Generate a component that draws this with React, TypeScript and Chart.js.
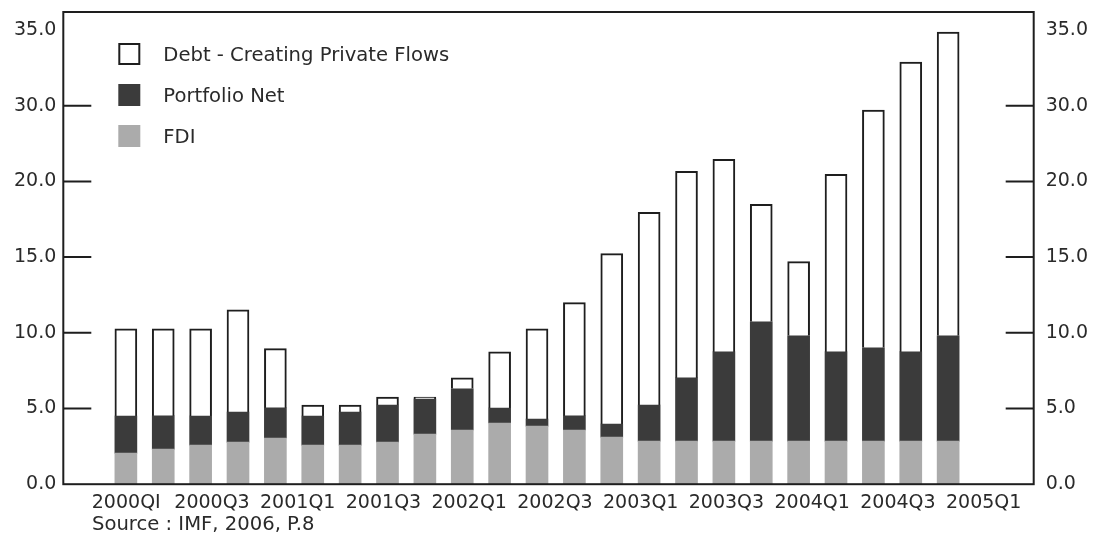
import React, { useEffect, useRef } from "react";
import { Chart, registerables } from "chart.js";

Chart.register(...registerables);

// ---- data ----
const QUARTERS = [
  "2000Q1", "2000Q2", "2000Q3", "2000Q4",
  "2001Q1", "2001Q2", "2001Q3", "2001Q4",
  "2002Q1", "2002Q2", "2002Q3", "2002Q4",
  "2003Q1", "2003Q2", "2003Q3", "2003Q4",
  "2004Q1", "2004Q2", "2004Q3", "2004Q4",
  "2005Q1", "2005Q2", "2005Q3",
];
const FDI = [
  2.05, 2.32, 2.58, 2.78, 3.05, 2.58, 2.58, 2.78, 3.31, 3.58, 4.04, 3.84,
  3.58, 3.11, 2.85, 2.85, 2.85, 2.85, 2.85, 2.85, 2.85, 2.85, 2.85,
];
const PORTFOLIO = [
  2.45, 2.19, 1.92, 1.99, 1.99, 1.92, 2.19, 2.45, 2.32, 2.72, 0.99, 0.46,
  0.93, 0.86, 2.38, 4.17, 5.89, 7.88, 6.95, 5.89, 6.16, 5.89, 6.95,
];
const DEBT = [
  5.76, 5.76, 5.76, 6.75, 3.91, 0.73, 0.46, 0.53, 0.13, 0.73, 3.71, 5.96,
  7.48, 11.26, 12.72, 13.64, 12.72, 7.75, 4.9, 11.72, 15.7, 19.14, 20.07,
];
const X_TICK_LABELS = [
  "2000QI", "2000Q3", "2001Q1", "2001Q3", "2002Q1", "2002Q3",
  "2003Q1", "2003Q3", "2004Q1", "2004Q3", "2005Q1",
];
const Y_TICK_VALUES = [0, 5, 10, 15, 20, 25, 30];
const Y_TICK_LABELS = ["0.0", "5.0", "10.0", "15.0", "20.0", "30.0", "35.0"];
const SERIES_LABELS = ["FDI", "Portfolio Net", "Debt - Creating Private Flows"];
const SOURCE_NOTE = "Source : IMF, 2006, P.8";

// ---- styles ----
const FONT_FAMILY = '"DejaVu Sans", Verdana, sans-serif';
const FONT_SIZE = 19;
const NOTE_FONT_SIZE = 19.6;
const TEXT_COLOR = "#2a2a2a";
const LINE_COLOR = "#1e1e1e";

const framePlugin = {
  id: "frameAndInnerTicks",
  afterDatasetsDraw(chart: any) {
    const { ctx, chartArea: a, scales } = chart;
    ctx.save();
    ctx.strokeStyle = LINE_COLOR;
    ctx.lineWidth = 2;
    ctx.strokeRect(a.left, a.top, a.right - a.left, a.bottom - a.top);
    const ys = scales.y;
    const ticks = ys.ticks;
    ctx.beginPath();
    ticks.forEach((t: any, i: number) => {
      if (i === 0 || i === ticks.length - 1) return;
      const py = ys.getPixelForValue(t.value);
      ctx.moveTo(a.left, py);
      ctx.lineTo(a.left + 28, py);
      ctx.moveTo(a.right, py);
      ctx.lineTo(a.right - 28, py);
    });
    ctx.stroke();
    ctx.restore();
  },
};

const legendPlugin = {
  id: "boxLegend",
  afterDraw(chart: any) {
    const { ctx, chartArea: a } = chart;
    const ds = chart.data.datasets.slice().reverse();
    ctx.save();
    ctx.font = `${NOTE_FONT_SIZE}px ${FONT_FAMILY}`;
    ctx.textBaseline = "middle";
    ctx.textAlign = "left";
    ds.forEach((d: any, i: number) => {
      const x = a.left + 55;
      const y = a.top + 31 + i * 41;
      ctx.fillStyle = d.backgroundColor;
      ctx.fillRect(x, y, 22, 22);
      if (d.borderWidth) {
        ctx.lineWidth = 2;
        ctx.strokeStyle = d.borderColor;
        ctx.strokeRect(x + 1, y + 1, 20, 20);
      }
      ctx.fillStyle = TEXT_COLOR;
      ctx.fillText(d.label, x + 45, y + 13);
    });
    ctx.restore();
  },
};

const sourcePlugin = {
  id: "sourceNote",
  afterDraw(chart: any) {
    const { ctx } = chart;
    ctx.save();
    ctx.font = `${NOTE_FONT_SIZE}px ${FONT_FAMILY}`;
    ctx.textBaseline = "middle";
    ctx.textAlign = "left";
    ctx.fillStyle = TEXT_COLOR;
    ctx.fillText(SOURCE_NOTE, 92, 525);
    ctx.restore();
  },
};

export default function App() {
  const ref = useRef<HTMLCanvasElement>(null);

  useEffect(() => {
    const toPoints = (arr: number[]) => QUARTERS.map((_, i) => ({ x: i, y: arr[i] }));
    const tickFont = { family: FONT_FAMILY, size: FONT_SIZE };
    const yTicks = {
      padding: 0,
      color: TEXT_COLOR,
      font: tickFont,
      callback: (v: any) => Y_TICK_LABELS[Y_TICK_VALUES.indexOf(Number(v))] ?? "",
    };
    const setYTicks = (s: any) => {
      s.ticks = Y_TICK_VALUES.map((v) => ({ value: v }));
    };

    const chart = new Chart(ref.current as HTMLCanvasElement, {
      type: "bar",
      data: {
        labels: QUARTERS,
        datasets: [
          {
            label: SERIES_LABELS[0],
            data: toPoints(FDI) as any,
            backgroundColor: "#ababab",
            borderWidth: 0,
          },
          {
            label: SERIES_LABELS[1],
            data: toPoints(PORTFOLIO) as any,
            backgroundColor: "#3b3b3b",
            borderWidth: 0,
          },
          {
            label: SERIES_LABELS[2],
            data: toPoints(DEBT) as any,
            backgroundColor: "#ffffff",
            borderColor: LINE_COLOR,
            borderWidth: 2,
          },
        ],
      },
      options: {
        animation: false,
        responsive: true,
        maintainAspectRatio: false,
        barThickness: 22,
        layout: { padding: { left: 14, right: 9, top: 12, bottom: 21 } },
        plugins: {
          legend: { display: false },
          title: { display: false },
        },
        scales: {
          x: {
            type: "linear",
            display: true,
            offset: false,
            stacked: true,
            min: -1.674,
            max: 24.289,
            ticks: { display: false },
            grid: { display: false, drawTicks: false },
            border: { display: false },
          },
          xl: {
            type: "linear",
            position: "bottom",
            offset: false,
            min: -0.734,
            max: 10.583,
            afterBuildTicks: (s: any) => {
              s.ticks = X_TICK_LABELS.map((_, i) => ({ value: i }));
            },
            ticks: {
              autoSkip: false,
              maxRotation: 0,
              padding: 7,
              color: TEXT_COLOR,
              font: tickFont,
              callback: (v: any) => X_TICK_LABELS[Math.round(Number(v))] ?? "",
            },
            grid: { display: false, drawTicks: false },
            border: { display: false },
          },
          y: {
            type: "linear",
            position: "left",
            stacked: true,
            min: 0,
            max: 31.19,
            afterBuildTicks: setYTicks,
            ticks: yTicks,
            grid: { display: true, drawOnChartArea: false, drawTicks: true, tickLength: 7, color: "transparent" },
            border: { display: false },
          },
          y2: {
            type: "linear",
            position: "right",
            min: 0,
            max: 31.19,
            afterBuildTicks: setYTicks,
            ticks: yTicks,
            grid: { display: true, drawOnChartArea: false, drawTicks: true, tickLength: 12, color: "transparent" },
            border: { display: false },
          },
        },
      } as any,
      plugins: [framePlugin, legendPlugin, sourcePlugin],
    });

    return () => chart.destroy();
  }, []);

  return (
    <div style={{ position: "fixed", left: 0, top: 0, width: 1097, height: 542, background: "#fff" }}>
      <canvas ref={ref} />
    </div>
  );
}
